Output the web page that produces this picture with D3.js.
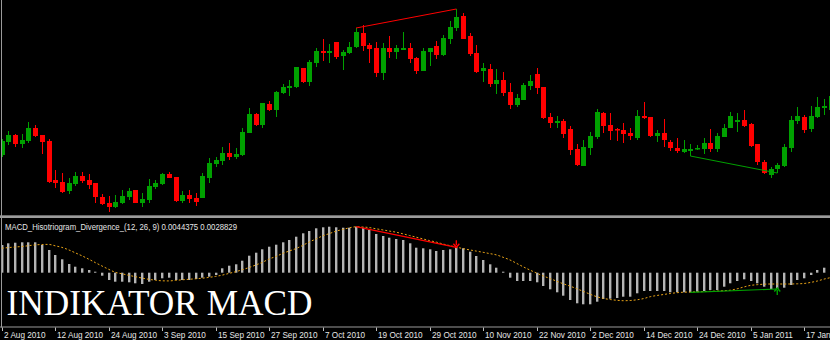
<!DOCTYPE html>
<html><head><meta charset="utf-8">
<script src="https://cdn.jsdelivr.net/npm/d3@7/dist/d3.min.js"></script>
<style>html,body{margin:0;padding:0;background:#000;}svg{display:block;}</style>
</head><body>
<svg id="c" width="830" height="340"></svg>
<script>
// ---- DATA (EURUSD daily, 2 Aug 2010 .. 18 Jan 2011) ----
const openP = [1.3005,1.3122,1.3185,1.3104,1.3131,1.3248,1.3185,1.3131,1.2780,1.2762,
1.2681,1.2744,1.2816,1.2780,1.2753,1.2627,1.2573,1.2537,1.2573,1.2627,
1.2690,1.2573,1.2600,1.2717,1.2744,1.2834,1.2807,1.2591,1.2645,1.2618,
1.2618,1.2798,1.2924,1.2951,1.3023,1.2987,1.3005,1.3203,1.3374,1.3275,
1.3464,1.3410,1.3563,1.3608,1.3617,1.3788,1.3662,1.3833,1.3941,1.3923,
1.4022,1.3896,1.3923,1.3977,1.4103,1.3995,1.3968,1.3743,1.3968,1.3932,
1.3950,1.3968,1.3878,1.3761,1.3932,1.3986,1.3905,1.4049,1.4148,1.4256,
1.4076,1.3923,1.3761,1.3779,1.3644,1.3680,1.3572,1.3455,1.3500,1.3626,
1.3734,1.3617,1.3347,1.3293,1.3311,1.3239,1.3059,1.2906,1.3068,1.3167,
1.3383,1.3275,1.3239,1.3230,1.3203,1.3158,1.3356,1.3347,1.3176,1.3203,
1.3122,1.3068,1.3032,1.3041,1.3059,1.3059,1.3113,1.3059,1.3167,1.3248,
1.3302,1.3320,1.3284,1.3104,1.2942,1.2825,1.2879,1.2906,1.3068,1.3311,
1.3347,1.3239,1.3347,1.3428,1.3410];
const highP = [1.3149,1.3221,1.3194,1.3194,1.3302,1.3275,1.3185,1.3149,1.2870,1.2843,
1.2798,1.2852,1.2852,1.2834,1.2753,1.2654,1.2636,1.2645,1.2690,1.2708,
1.2690,1.2663,1.2789,1.2780,1.2843,1.2852,1.2807,1.2681,1.2690,1.2663,
1.2843,1.2978,1.2987,1.3077,1.3113,1.3068,1.3248,1.3428,1.3383,1.3473,
1.3491,1.3581,1.3644,1.3680,1.3797,1.3788,1.3860,1.3968,1.4049,1.4004,
1.4022,1.3950,1.4022,1.4148,1.4175,1.4013,1.4022,1.4013,1.4076,1.3995,
1.4112,1.4013,1.3887,1.3968,1.3968,1.4031,1.4085,1.4211,1.4319,1.4283,
1.4103,1.3995,1.3833,1.3824,1.3779,1.3752,1.3653,1.3554,1.3653,1.3725,
1.3788,1.3617,1.3383,1.3356,1.3329,1.3266,1.3104,1.3140,1.3212,1.3419,
1.3392,1.3383,1.3248,1.3293,1.3248,1.3410,1.3482,1.3347,1.3230,1.3329,
1.3140,1.3158,1.3140,1.3104,1.3095,1.3158,1.3239,1.3203,1.3284,1.3392,
1.3383,1.3410,1.3293,1.3104,1.2960,1.2897,1.2933,1.3104,1.3356,1.3437,
1.3365,1.3446,1.3527,1.3509,1.3590];
const lowP = [1.2987,1.3095,1.3077,1.3068,1.3113,1.3167,1.3014,1.2753,1.2708,1.2663,
1.2654,1.2726,1.2753,1.2699,1.2573,1.2555,1.2492,1.2528,1.2564,1.2600,
1.2573,1.2537,1.2573,1.2699,1.2735,1.2798,1.2582,1.2573,1.2573,1.2546,
1.2618,1.2753,1.2897,1.2915,1.2960,1.2969,1.2996,1.3203,1.3266,1.3248,
1.3401,1.3347,1.3554,1.3536,1.3608,1.3653,1.3626,1.3797,1.3851,1.3833,
1.3869,1.3770,1.3914,1.3968,1.3941,1.3833,1.3707,1.3680,1.3878,1.3869,
1.3950,1.3833,1.3734,1.3761,1.3806,1.3869,1.3896,1.4004,1.4121,1.4049,
1.3896,1.3743,1.3662,1.3617,1.3554,1.3536,1.3419,1.3437,1.3500,1.3590,
1.3554,1.3329,1.3248,1.3248,1.3158,1.3005,1.2906,1.2906,1.3005,1.3149,
1.3203,1.3140,1.3131,1.3113,1.3140,1.3140,1.3329,1.3167,1.3122,1.3077,
1.3041,1.3023,1.3023,1.2996,1.3050,1.3014,1.3032,1.3032,1.3167,1.3248,
1.3212,1.3257,1.3077,1.2915,1.2834,1.2798,1.2843,1.2897,1.3032,1.3284,
1.3203,1.3212,1.3338,1.3365,1.3392];
const closeP = [1.3131,1.3185,1.3104,1.3140,1.3248,1.3176,1.3122,1.2762,1.2753,1.2672,
1.2753,1.2816,1.2771,1.2735,1.2627,1.2564,1.2537,1.2582,1.2636,1.2681,
1.2573,1.2609,1.2726,1.2753,1.2834,1.2798,1.2591,1.2645,1.2609,1.2582,
1.2816,1.2933,1.2960,1.3023,1.2987,1.3014,1.3212,1.3374,1.3275,1.3473,
1.3410,1.3572,1.3617,1.3626,1.3797,1.3662,1.3842,1.3941,1.3923,1.3941,
1.3887,1.3932,1.3977,1.4112,1.3986,1.3959,1.3743,1.3968,1.3932,1.3968,
1.3968,1.3869,1.3761,1.3941,1.3968,1.3905,1.4058,1.4157,1.4247,1.4049,
1.3914,1.3752,1.3788,1.3644,1.3680,1.3563,1.3455,1.3518,1.3635,1.3671,
1.3608,1.3338,1.3293,1.3311,1.3194,1.3050,1.2915,1.3077,1.3176,1.3392,
1.3266,1.3221,1.3230,1.3194,1.3176,1.3356,1.3338,1.3176,1.3203,1.3140,
1.3068,1.3041,1.3059,1.3059,1.3068,1.3113,1.3059,1.3176,1.3248,1.3356,
1.3320,1.3266,1.3086,1.2942,1.2843,1.2879,1.2915,1.3077,1.3320,1.3356,
1.3230,1.3356,1.3437,1.3446,1.3536];
const macdHist = [0.0277,0.0294,0.0300,0.0304,0.0304,0.0304,0.0277,0.0227,0.0177,0.0134,
0.0087,0.0060,0.0044,0.0027,0.0010,-0.0030,-0.0073,-0.0090,-0.0090,-0.0096,
-0.0106,-0.0113,-0.0090,-0.0073,-0.0056,-0.0050,-0.0073,-0.0073,-0.0073,-0.0063,
-0.0050,-0.0040,-0.0023,0.0044,0.0070,0.0084,0.0120,0.0170,0.0200,0.0234,
0.0260,0.0280,0.0304,0.0327,0.0360,0.0394,0.0417,0.0444,0.0454,0.0460,
0.0454,0.0450,0.0450,0.0460,0.0450,0.0427,0.0387,0.0367,0.0350,0.0337,
0.0327,0.0294,0.0250,0.0244,0.0234,0.0217,0.0227,0.0234,0.0254,0.0244,
0.0210,0.0167,0.0127,0.0084,0.0050,0.0010,-0.0050,-0.0083,-0.0083,-0.0083,
-0.0096,-0.0133,-0.0166,-0.0196,-0.0230,-0.0273,-0.0306,-0.0316,-0.0316,-0.0290,
-0.0263,-0.0260,-0.0253,-0.0240,-0.0240,-0.0206,-0.0183,-0.0183,-0.0183,-0.0183,
-0.0196,-0.0196,-0.0196,-0.0196,-0.0190,-0.0183,-0.0173,-0.0173,-0.0140,-0.0106,
-0.0083,-0.0066,-0.0083,-0.0106,-0.0140,-0.0163,-0.0163,-0.0150,-0.0123,-0.0073,
-0.0056,-0.0023,0.0027,0.0050,0.0070];
const macdSignal = [0.0245,0.0251,0.0257,0.0262,0.0270,0.0278,0.0282,0.0283,0.0269,0.0253,
0.0229,0.0199,0.0169,0.0136,0.0101,0.0067,0.0034,0.0004,-0.0011,-0.0026,
-0.0040,-0.0054,-0.0066,-0.0075,-0.0081,-0.0082,-0.0077,-0.0071,-0.0066,-0.0061,
-0.0055,-0.0047,-0.0037,-0.0024,-0.0007,0.0010,0.0030,0.0052,0.0077,0.0104,
0.0137,0.0162,0.0192,0.0217,0.0241,0.0272,0.0307,0.0337,0.0368,0.0391,
0.0415,0.0432,0.0449,0.0459,0.0457,0.0451,0.0439,0.0428,0.0416,0.0405,
0.0389,0.0372,0.0355,0.0338,0.0321,0.0306,0.0287,0.0271,0.0256,0.0241,
0.0228,0.0216,0.0204,0.0191,0.0178,0.0154,0.0128,0.0094,0.0059,0.0027,
-0.0004,-0.0033,-0.0058,-0.0085,-0.0111,-0.0134,-0.0160,-0.0187,-0.0215,-0.0240,
-0.0257,-0.0268,-0.0276,-0.0280,-0.0278,-0.0271,-0.0259,-0.0240,-0.0228,-0.0218,
-0.0208,-0.0200,-0.0195,-0.0193,-0.0191,-0.0189,-0.0186,-0.0184,-0.0180,-0.0175,
-0.0161,-0.0143,-0.0127,-0.0120,-0.0115,-0.0113,-0.0113,-0.0113,-0.0113,-0.0111,
-0.0108,-0.0097,-0.0083,-0.0064,-0.0049];
const tickBars = [0,8,16,24,32,40,48,56,64,72,80,88,96,104,112,120];
const tickLabels = ["2 Aug 2010","12 Aug 2010","24 Aug 2010","3 Sep 2010","15 Sep 2010","27 Sep 2010",
"7 Oct 2010","19 Oct 2010","29 Oct 2010","10 Nov 2010","22 Nov 2010","2 Dec 2010",
"14 Dec 2010","24 Dec 2010","5 Jan 2011","17 Jan 2011"];
const bearDiv = [53, 68];   // bar indices (highs / histogram peaks)
const bullDiv = [103, 116]; // bar indices (lows / histogram troughs)
const indicatorTitle = "MACD_Hisotriogram_Divergence_(12, 26, 9) 0.0044375 0.0028829";
const bannerText = "INDIKATOR MACD";

// ---- LAYOUT ----
const svg = d3.select("#c");
const W = 830, H = 340;
const mainTop = 0, mainBot = 215, sepTop = 215, sepBot = 218, indTop = 218, indBot = 326.5;

const x = d3.scaleLinear().domain([0, 120]).range([1.7, 804]);
const yP = d3.scaleLinear().domain([1.2465, 1.44]).range([mainBot, mainTop]);
const yM = d3.scaleLinear().domain([-0.0533, 0.0547]).range([326, 218]);

const UP = "#00a000", DN = "#ff0000";

svg.append("rect").attr("width", W).attr("height", H).attr("fill", "#000");

const defs = svg.append("defs");
defs.append("clipPath").attr("id", "cm").append("rect").attr("x", 2).attr("y", 0).attr("width", W - 2).attr("height", mainBot);
defs.append("clipPath").attr("id", "ci").append("rect").attr("x", 2).attr("y", indTop).attr("width", W - 2).attr("height", indBot - indTop);

const bars = d3.range(openP.length).map(i => ({i, o: openP[i], h: highP[i], l: lowP[i], c: closeP[i]}));

// ---- main candle window ----
const gm = svg.append("g").attr("clip-path", "url(#cm)");
const cx = i => Math.round(x(i));
gm.selectAll("line.w").data(bars).join("line")
  .attr("x1", d => cx(d.i) + 0.5).attr("x2", d => cx(d.i) + 0.5)
  .attr("y1", d => yP(d.h)).attr("y2", d => yP(d.l))
  .attr("stroke", d => d.c >= d.o ? UP : DN).attr("stroke-width", 1);
gm.selectAll("rect.b").data(bars).join("rect")
  .attr("x", d => cx(d.i) - 2).attr("width", 5)
  .attr("y", d => yP(Math.max(d.o, d.c)))
  .attr("height", d => Math.max(1.5, yP(Math.min(d.o, d.c)) - yP(Math.max(d.o, d.c))))
  .attr("fill", d => d.c >= d.o ? UP : DN);
// divergence lines on price
gm.append("line").attr("x1", x(bearDiv[0])).attr("y1", yP(highP[bearDiv[0]]))
  .attr("x2", x(bearDiv[1])).attr("y2", yP(highP[bearDiv[1]])).attr("stroke", DN).attr("stroke-width", 1);
gm.append("line").attr("x1", x(bullDiv[0])).attr("y1", yP(lowP[bullDiv[0]]))
  .attr("x2", x(bullDiv[1])).attr("y2", yP(lowP[bullDiv[1]])).attr("stroke", "#00a000").attr("stroke-width", 1);

// ---- separator ----
svg.append("rect").attr("x", 0).attr("y", sepTop).attr("width", W).attr("height", sepBot - sepTop).attr("fill", "#9c9c9c");
svg.append("line").attr("x1", 0).attr("x2", W).attr("y1", sepTop + 0.5).attr("y2", sepTop + 0.5).attr("stroke", "#6a6a6a");

// ---- indicator window ----
const gi = svg.append("g").attr("clip-path", "url(#ci)");
gi.selectAll("rect.h").data(macdHist.map((v, i) => ({i, v}))).join("rect")
  .attr("x", d => cx(d.i) - 1).attr("width", 2.4)
  .attr("y", d => Math.min(yM(d.v), yM(0)))
  .attr("height", d => Math.max(0.8, Math.abs(yM(d.v) - yM(0))))
  .attr("fill", "#b4b4b4");
const sigLine = d3.line().x((d, i) => x(i)).y(d => yM(d)).curve(d3.curveMonotoneX);
gi.append("path").attr("d", sigLine(macdSignal)).attr("fill", "none")
  .attr("stroke", "#e8a317").attr("stroke-width", 1).attr("stroke-dasharray", "2,2");
gi.append("line").attr("x1", x(bearDiv[0])).attr("y1", yM(macdHist[bearDiv[0]]))
  .attr("x2", x(bearDiv[1])).attr("y2", yM(macdHist[bearDiv[1]])).attr("stroke", DN).attr("stroke-width", 1.2);
gi.append("line").attr("x1", x(bullDiv[0])).attr("y1", yM(macdHist[bullDiv[0]]))
  .attr("x2", x(bullDiv[1])).attr("y2", yM(macdHist[bullDiv[1]])).attr("stroke", "#00a000").attr("stroke-width", 1.2);
// arrows
{
  const ax = x(bearDiv[1]), ay = yM(macdHist[bearDiv[1]]);
  gi.append("path").attr("d", `M${ax},${ay - 7}V${ay - 2}M${ax - 3},${ay - 3.5}L${ax},${ay}L${ax + 3},${ay - 3.5}`)
    .attr("stroke", DN).attr("stroke-width", 1.4).attr("fill", "none");
  const bx = x(bullDiv[1]), by = yM(macdHist[bullDiv[1]]) - 1;
  gi.append("path").attr("d", `M${bx},${by + 7}V${by + 2}M${bx - 3},${by + 3.5}L${bx},${by}L${bx + 3},${by + 3.5}`)
    .attr("stroke", "#00a000").attr("stroke-width", 1.4).attr("fill", "none");
}
svg.append("text").attr("x", 5).attr("y", 229.5).text(indicatorTitle)
  .attr("fill", "#e6e6e6").attr("font-family", "'Liberation Sans', Arial, sans-serif").attr("font-size", 8.4)
  .attr("textLength", 232).attr("lengthAdjust", "spacingAndGlyphs");

// banner text
svg.append("text").attr("x", 6.5).attr("y", 315).text(bannerText)
  .attr("fill", "#ffffff").attr("font-family", "'Liberation Serif', 'Times New Roman', serif").attr("font-size", 35)
  .attr("textLength", 306).attr("lengthAdjust", "spacingAndGlyphs");

// ---- time axis ----
svg.append("line").attr("x1", 0).attr("x2", W).attr("y1", indBot + 0.5).attr("y2", indBot + 0.5).attr("stroke", "#9a9a9a");
svg.append("line").attr("x1", 1.5).attr("x2", 1.5).attr("y1", 0).attr("y2", indBot + 1).attr("stroke", "#9a9a9a");
const ticks = svg.append("g");
tickBars.forEach((b, k) => {
  const tx = Math.round(x(b)) + 0.5;
  ticks.append("line").attr("x1", tx).attr("x2", tx).attr("y1", indBot + 1).attr("y2", indBot + 4.5).attr("stroke", "#bdbdbd");
  ticks.append("text").attr("x", tx + 1.5).attr("y", 338).text(tickLabels[k])
    .attr("fill", "#e6e6e6").attr("font-family", "'Liberation Sans', Arial, sans-serif").attr("font-size", 8.2);
});
</script>
</body></html>
